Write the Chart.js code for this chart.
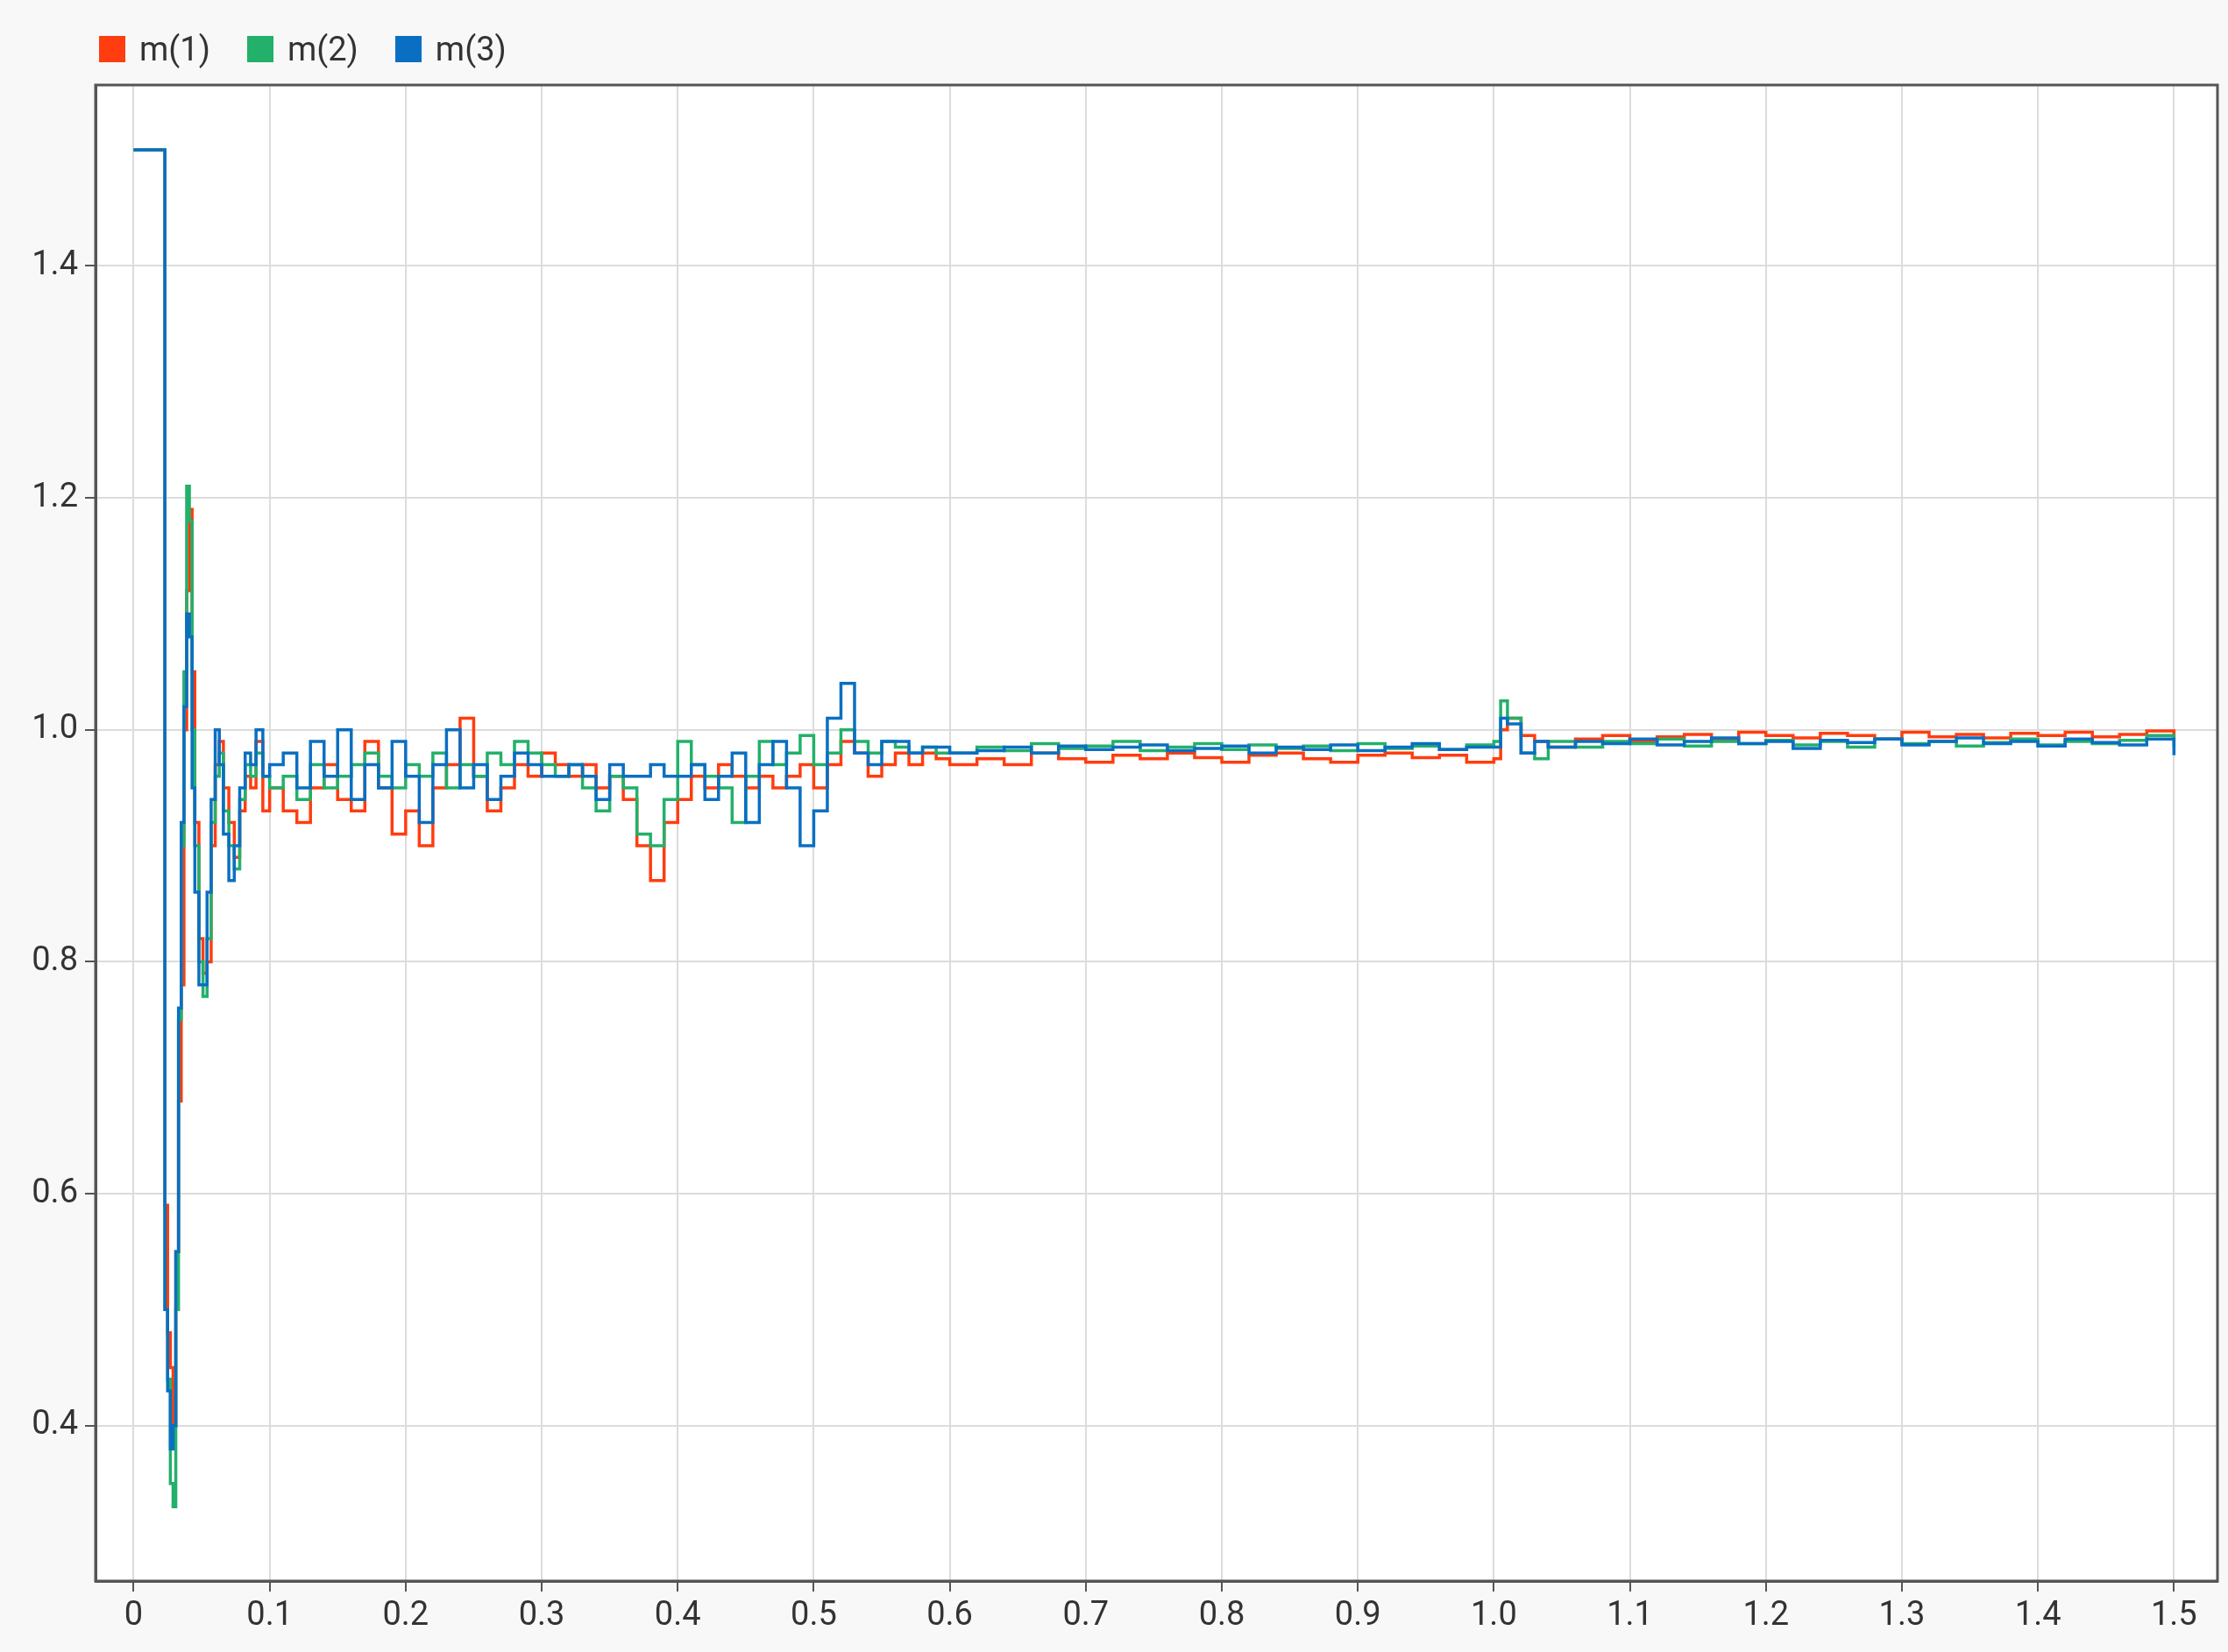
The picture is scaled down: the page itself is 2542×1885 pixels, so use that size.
<!DOCTYPE html>
<html><head><meta charset="utf-8">
<script src="https://cdn.jsdelivr.net/npm/chart.js@4"></script>
<style>
html,body{margin:0;padding:0;background:#fff;}
#wrap{position:relative;width:2542px;height:1885px;background:#f8f8f8;box-sizing:border-box;}
#legend{position:absolute;left:113px;top:34px;display:flex;font-family:"Liberation Sans Narrow","Roboto",sans-serif;font-size:38px;color:#333;}
#legend span.item{display:flex;align-items:center;margin-right:42px;}
#legend i{display:inline-block;width:30px;height:30px;margin-right:16px;}
</style></head>
<body><div id="wrap"><div id="legend"></div><canvas id="c" width="2542" height="1885"></canvas></div>
<script>
const seriesNames = ["m(1)","m(2)","m(3)"];
const seriesColors = ["#ff3d0f","#23b06a","#0a6fc2"];
const xTicks = [0,0.1,0.2,0.3,0.4,0.5,0.6,0.7,0.8,0.9,1.0,1.1,1.2,1.3,1.4,1.5];
const yTicks = [0.4,0.6,0.8,1.0,1.2,1.4];
const times = [0,0.005,0.01,0.015,0.02,0.023,0.025,0.027,0.029,0.031,0.033,0.035,0.037,0.039,0.041,0.043,0.045,0.048,0.051,0.054,0.057,0.06,0.063,0.066,0.07,0.074,0.078,0.082,0.086,0.09,0.095,0.1,
0.11,0.12,0.13,0.14,0.15,0.16,0.17,0.18,0.19,0.20,0.21,0.22,0.23,0.24,0.25,0.26,0.27,0.28,0.29,0.30,
0.31,0.32,0.33,0.34,0.35,0.36,0.37,0.38,0.39,0.40,0.41,0.42,0.43,0.44,0.45,0.46,0.47,0.48,0.49,0.50,
0.51,0.52,0.53,0.54,0.55,0.56,0.57,0.58,0.59,0.60,
0.62,0.64,0.66,0.68,0.70,0.72,0.74,0.76,0.78,0.80,0.82,0.84,0.86,0.88,0.90,0.92,0.94,0.96,0.98,1.00,
1.005,1.01,1.02,1.03,1.04,
1.06,1.08,1.10,1.12,1.14,1.16,1.18,1.20,1.22,1.24,1.26,1.28,1.30,1.32,1.34,1.36,1.38,1.40,1.42,1.44,1.46,1.48,1.50];
const m1 = [1.5,1.5,1.5,1.5,1.5,0.59,0.48,0.45,0.40,0.55,0.68,0.78,1.0,1.12,1.19,1.05,0.92,0.82,0.79,0.80,0.90,0.97,0.99,0.95,0.92,0.89,0.93,0.96,0.95,0.99,0.93,0.95,
0.93,0.92,0.95,0.97,0.94,0.93,0.99,0.95,0.91,0.93,0.90,0.95,0.97,1.01,0.96,0.93,0.95,0.97,0.96,0.98,
0.97,0.96,0.97,0.95,0.96,0.94,0.90,0.87,0.92,0.94,0.96,0.95,0.97,0.96,0.95,0.96,0.95,0.96,0.97,0.95,
0.97,0.99,0.98,0.96,0.97,0.98,0.97,0.98,0.975,0.97,
0.975,0.97,0.98,0.975,0.972,0.978,0.975,0.98,0.976,0.972,0.978,0.98,0.975,0.972,0.978,0.98,0.976,0.978,0.972,0.975,
1.00,1.01,0.995,0.99,0.985,
0.992,0.995,0.99,0.994,0.996,0.992,0.998,0.995,0.993,0.997,0.995,0.992,0.998,0.994,0.996,0.993,0.997,0.995,0.998,0.994,0.996,0.999,0.994];
const m2 = [1.5,1.5,1.5,1.5,1.5,0.50,0.44,0.35,0.33,0.50,0.75,0.90,1.05,1.21,1.18,1.00,0.90,0.80,0.77,0.82,0.92,0.96,0.98,0.93,0.90,0.88,0.94,0.97,0.96,0.98,0.96,0.95,
0.96,0.94,0.97,0.95,0.96,0.97,0.98,0.96,0.95,0.97,0.96,0.98,0.95,0.97,0.96,0.98,0.97,0.99,0.98,0.97,
0.96,0.97,0.95,0.93,0.96,0.95,0.91,0.90,0.94,0.99,0.97,0.96,0.95,0.92,0.96,0.99,0.97,0.98,0.995,0.97,
0.98,1.00,0.99,0.98,0.99,0.985,0.98,0.985,0.98,0.98,
0.985,0.982,0.988,0.984,0.986,0.99,0.982,0.985,0.988,0.983,0.987,0.984,0.986,0.982,0.988,0.984,0.986,0.983,0.987,0.99,
1.025,1.01,0.98,0.975,0.99,
0.985,0.99,0.988,0.992,0.986,0.99,0.988,0.991,0.987,0.99,0.985,0.992,0.988,0.99,0.986,0.989,0.992,0.987,0.99,0.988,0.991,0.995,0.985];
const m3 = [1.5,1.5,1.5,1.5,1.5,0.50,0.43,0.38,0.40,0.55,0.76,0.92,1.02,1.10,1.08,0.95,0.86,0.78,0.78,0.86,0.94,1.00,0.97,0.91,0.87,0.90,0.95,0.98,0.97,1.00,0.96,0.97,
0.98,0.95,0.99,0.96,1.00,0.94,0.97,0.95,0.99,0.96,0.92,0.97,1.00,0.95,0.97,0.94,0.96,0.98,0.97,0.96,
0.96,0.97,0.96,0.94,0.97,0.96,0.96,0.97,0.96,0.96,0.97,0.94,0.96,0.98,0.92,0.97,0.99,0.95,0.90,0.93,
1.01,1.04,0.98,0.97,0.99,0.99,0.98,0.985,0.985,0.98,
0.982,0.985,0.98,0.986,0.983,0.985,0.987,0.982,0.984,0.986,0.98,0.985,0.983,0.987,0.982,0.985,0.988,0.983,0.985,0.985,
1.01,1.005,0.98,0.99,0.985,
0.99,0.988,0.992,0.987,0.99,0.993,0.988,0.99,0.984,0.991,0.989,0.992,0.987,0.99,0.993,0.988,0.99,0.986,0.992,0.989,0.987,0.992,0.978];

const allVals=[m1,m2,m3];
const leg=document.getElementById('legend');
seriesNames.forEach((n,i)=>{const s=document.createElement('span');s.className='item';s.innerHTML='<i style="background:'+seriesColors[i]+'"></i>'+n;leg.appendChild(s);});

const FONT={family:'"Liberation Sans Narrow", Roboto, sans-serif',size:38};
const frame={id:'frame',
 beforeDraw(ch){const a=ch.chartArea,c=ch.ctx;c.save();c.fillStyle='#fff';c.fillRect(a.left,a.top,a.right-a.left,a.bottom-a.top);c.restore();},
 afterDraw(ch){const a=ch.chartArea,c=ch.ctx;c.save();c.strokeStyle='#555';c.lineWidth=3;c.strokeRect(a.left,a.top,a.right-a.left,a.bottom-a.top);c.restore();}};

new Chart(document.getElementById('c'),{
 type:'line',
 data:{datasets:allVals.map((v,i)=>({label:seriesNames[i],order:2-i,data:times.map((t,k)=>({x:t,y:v[k]})),borderColor:seriesColors[i],borderWidth:3.5,pointRadius:0,stepped:true,fill:false}))},
 options:{responsive:false,animation:false,devicePixelRatio:1,
  layout:{padding:{left:0,right:12,top:97,bottom:0}},
  plugins:{legend:{display:false},tooltip:{enabled:false}},
  scales:{
   x:{type:'linear',min:-0.028,max:1.532,
      afterBuildTicks(s){s.ticks=xTicks.map(v=>({value:v}));},
      afterFit(s){s.height=81;},
      ticks:{font:FONT,color:'#333',autoSkip:false,maxRotation:0,padding:6,callback:v=>v===0?'0':v.toFixed(1)},
      grid:{color:'#dcdcdc',lineWidth:2,tickLength:12,tickColor:'#555'},border:{color:'#555',width:3}},
   y:{type:'linear',min:0.266,max:1.556,
      afterBuildTicks(s){s.ticks=yTicks.map(v=>({value:v}));},
      afterFit(s){s.width=109;},
      ticks:{font:FONT,color:'#333',padding:8,callback:v=>v.toFixed(1)},
      grid:{color:'#dcdcdc',lineWidth:2,tickLength:12,tickColor:'#555'},border:{color:'#555',width:3}}
  }},
 plugins:[frame]
});
</script></body></html>
